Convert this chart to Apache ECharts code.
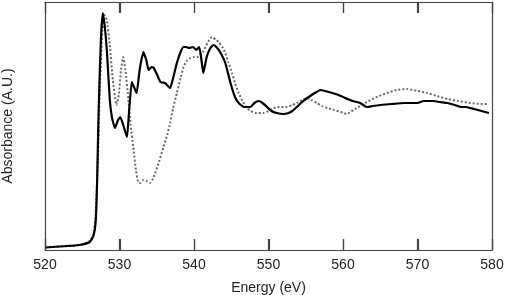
<!DOCTYPE html>
<html><head><meta charset="utf-8">
<script src="https://cdn.jsdelivr.net/npm/echarts@6/dist/echarts.min.js"></script>
<style>html,body{margin:0;padding:0;background:#fff}#c{width:505px;height:295px}</style>
</head><body><div id="c"></div>
<script>
const xTicks = [520, 530, 540, 550, 560, 570, 580];
const solidEnergy = [520,521,522,523,524,525,526,526.5,526.8,527.0,527.2,527.5,527.75,528.0,528.3,528.7,529.0,529.4,529.8,530.1,530.5,531.0,531.3,531.65,532.0,532.3,532.7,533.2,533.6,533.9,534.3,534.6,535.0,535.5,536.1,536.8,537.2,537.7,538.2,538.6,539.0,539.3,539.9,540.3,540.7,541.0,541.25,541.7,542.2,542.6,543.0,543.5,544.2,544.9,545.5,546.0,546.7,547.6,548.1,548.7,549.2,549.8,550.4,551.1,552.0,552.7,553.2,553.8,554.5,555.2,556.0,557.0,558.1,559.0,559.7,560.3,561.3,562.3,563.2,564.0,565.0,566.5,568.2,570,570.8,572.2,573,574,575,575.8,576.5,577.6,578.6,579.6];
const solidAbs = [0.025,0.03,0.035,0.04,0.045,0.055,0.08,0.14,0.28,0.70,1.40,2.10,2.37,2.25,2.00,1.50,1.32,1.22,1.30,1.33,1.25,1.13,1.40,1.68,1.62,1.57,1.80,1.98,1.90,1.80,1.83,1.82,1.76,1.68,1.67,1.62,1.72,1.87,1.98,2.03,2.03,2.02,2.03,2.00,2.03,1.90,1.77,1.93,2.02,2.05,2.03,1.98,1.87,1.67,1.53,1.47,1.43,1.43,1.47,1.49,1.47,1.43,1.39,1.37,1.36,1.37,1.39,1.43,1.48,1.52,1.56,1.60,1.58,1.56,1.54,1.52,1.49,1.47,1.43,1.44,1.45,1.46,1.47,1.47,1.49,1.49,1.48,1.47,1.45,1.43,1.43,1.41,1.39,1.37];
const dottedEnergy = [520,521,522,523,524,525,526,526.5,526.8,527.1,527.4,527.7,528.0,528.3,528.7,529.1,529.6,529.9,530.2,530.5,530.8,531.2,531.5,531.9,532.2,532.5,532.8,533.2,533.6,534.1,534.4,534.8,535.3,535.9,536.4,536.8,537.2,537.7,538.2,538.6,539.0,539.5,540.0,540.6,541.2,541.8,542.4,543.0,543.3,543.8,544.2,544.6,545.1,545.5,546.0,546.5,547.1,547.6,548.2,549.3,550.0,550.7,551.5,552.5,553.2,553.8,554.5,555.2,555.8,556.5,557.2,557.9,558.8,559.7,560.5,561.4,562.5,563.7,564.8,565.9,567.2,568.6,570,571.3,572.6,574,575.5,577.1,578.5,579.6];
const dottedAbs = [0.025,0.03,0.035,0.04,0.045,0.055,0.09,0.16,0.35,0.90,1.70,2.20,2.35,2.30,2.05,1.70,1.45,1.55,1.80,1.93,1.80,1.50,1.25,1.00,0.80,0.68,0.67,0.70,0.69,0.67,0.70,0.77,0.88,1.03,1.15,1.27,1.42,1.57,1.72,1.83,1.89,1.92,1.93,1.93,1.98,2.07,2.13,2.10,2.08,2.03,1.97,1.88,1.77,1.67,1.57,1.49,1.42,1.39,1.37,1.37,1.39,1.42,1.43,1.43,1.45,1.47,1.50,1.52,1.50,1.47,1.44,1.42,1.40,1.38,1.36,1.40,1.45,1.50,1.54,1.57,1.60,1.61,1.59,1.57,1.54,1.51,1.49,1.47,1.46,1.46];

const solidData = solidEnergy.map((e, i) => [e, solidAbs[i]]);
const dottedData = dottedEnergy.map((e, i) => [e, dottedAbs[i]]);
const FONT = '"Liberation Sans", Arial, sans-serif';
const AXC = '#444';
const chart = echarts.init(document.getElementById('c'), null, {renderer: 'canvas'});
const axLine = () => ({show: true, onZero: false, lineStyle: {color: AXC, width: 1.2}});
const axTick = () => ({show: true, inside: true, length: 11, lineStyle: {color: AXC, width: 1.2}});
chart.setOption({
  animation: false,
  grid: {left: 45, right: 13, top: 2, bottom: 45, containLabel: false, outerBoundsMode: 'none'},
  xAxis: [{
    type: 'value', min: 520, max: 580, interval: 10, position: 'bottom',
    axisLine: axLine(), axisTick: axTick(),
    axisLabel: {show: true, color: '#222', fontSize: 14, fontFamily: FONT, margin: 8,
      formatter: v => xTicks.includes(v) ? String(v) : ''},
    splitLine: {show: false},
    name: 'Energy (eV)', nameLocation: 'middle', nameGap: 31,
    nameTextStyle: {color: '#222', fontSize: 14, fontFamily: FONT}
  }, {
    type: 'value', min: 520, max: 580, interval: 10, position: 'top',
    axisLine: axLine(), axisTick: axTick(),
    axisLabel: {show: false}, splitLine: {show: false}
  }],
  yAxis: [{
    type: 'value', min: 0, max: 2.48, position: 'left',
    axisLine: axLine(),
    axisTick: {show: false}, axisLabel: {show: false}, splitLine: {show: false},
    name: 'Absorbance (A.U.)', nameLocation: 'middle', nameGap: 30, nameRotate: 90,
    nameTextStyle: {color: '#222', fontSize: 14, fontFamily: FONT}
  }, {
    type: 'value', min: 0, max: 2.48, position: 'right',
    axisLine: axLine(),
    axisTick: {show: false}, axisLabel: {show: false}, splitLine: {show: false}
  }],
  series: [{
    type: 'line', data: dottedData, showSymbol: false, smooth: 0.15,
    lineStyle: {color: '#6a6a6a', width: 2, type: [2, 2]}, z: 2
  }, {
    type: 'line', data: solidData, showSymbol: false, smooth: 0.15,
    lineStyle: {color: '#000', width: 2.2}, z: 3
  }]
});
// Tick marks placed through the axis scale (inward, on bottom and top frame)
const yBottom = chart.convertToPixel({yAxisIndex: 0}, 0);
const yTop = chart.convertToPixel({yAxisIndex: 0}, 2.48);
const tickEls = [];
xTicks.forEach(v => {
  const px = Math.round(chart.convertToPixel({xAxisIndex: 0}, v)) + 0.5;
  tickEls.push({type: 'line', silent: true, z: 10,
    shape: {x1: px, y1: yBottom, x2: px, y2: yBottom - 11},
    style: {stroke: AXC, lineWidth: 1.2}});
  tickEls.push({type: 'line', silent: true, z: 10,
    shape: {x1: px, y1: yTop, x2: px, y2: yTop + 11},
    style: {stroke: AXC, lineWidth: 1.2}});
});
chart.setOption({graphic: {elements: tickEls}});
</script></body></html>
